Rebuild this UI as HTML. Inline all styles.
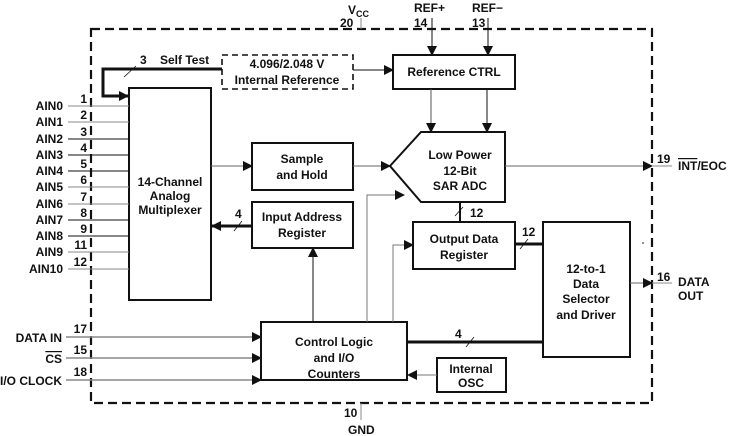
<!DOCTYPE html>
<html><head><meta charset="utf-8"><style>
html,body{margin:0;padding:0;background:#fff}
svg{display:block}
text{font-family:"Liberation Sans",Arial,sans-serif;font-weight:bold;font-size:12px;fill:#111}
</style></head><body>
<svg width="729" height="436" viewBox="0 0 729 436" xmlns="http://www.w3.org/2000/svg">
<defs>
<marker id="a" markerWidth="10" markerHeight="10" refX="9" refY="5" orient="auto" markerUnits="userSpaceOnUse"><path d="M0,0 L10,5 L0,10 z" fill="#111"/></marker>
</defs>
<g stroke="#111" fill="none">
<rect x="91" y="29" width="561" height="374" stroke-width="2.2" stroke-dasharray="9,5"/>
<rect x="222" y="55" width="131" height="34" stroke-width="1.6" stroke-dasharray="6,4"/>
<rect x="393" y="55" width="122" height="34" stroke-width="2"/>
<rect x="129" y="88" width="82" height="212" stroke-width="2"/>
<rect x="252" y="143" width="101" height="47" stroke-width="2"/>
<rect x="252" y="202" width="101" height="46" stroke-width="2"/>
<path d="M390,166 L421,132 L505,132 L505,202 L421,202 Z" stroke-width="2"/>
<rect x="413" y="222" width="102" height="47" stroke-width="2"/>
<rect x="543" y="222" width="87" height="135" stroke-width="2"/>
<rect x="261" y="322" width="146" height="58" stroke-width="2"/>
<rect x="437" y="358" width="69" height="34" stroke-width="2"/>
<path d="M222,69 L103,69 L103,96 L128,96" stroke-width="3" marker-end="url(#a)"/>
<line x1="124" y1="77" x2="136" y2="66" stroke-width="0.8"/>
<line x1="361" y1="18" x2="361" y2="29" stroke="#888" stroke-width="1"/>
<line x1="432" y1="18" x2="432" y2="55" stroke-width="1" marker-end="url(#a)"/>
<line x1="488" y1="18" x2="488" y2="55" stroke-width="1" marker-end="url(#a)"/>
<line x1="353" y1="70" x2="393" y2="70" stroke-width="1" marker-end="url(#a)"/>
<line x1="431" y1="89" x2="431" y2="132" stroke="#555" stroke-width="1" marker-end="url(#a)"/>
<line x1="487" y1="89" x2="487" y2="132" stroke-width="1" marker-end="url(#a)"/>
<g stroke="#888" stroke-width="1">
<line x1="68" y1="106" x2="129" y2="106"/><line x1="68" y1="122" x2="129" y2="122"/>
<line x1="68" y1="139" x2="129" y2="139" stroke="#111"/><line x1="68" y1="155" x2="129" y2="155" stroke="#111"/>
<line x1="68" y1="171" x2="129" y2="171" stroke="#111"/><line x1="68" y1="187" x2="129" y2="187"/>
<line x1="68" y1="204" x2="129" y2="204"/><line x1="68" y1="220" x2="129" y2="220" stroke="#111"/>
<line x1="68" y1="236" x2="129" y2="236" stroke="#111"/><line x1="68" y1="252" x2="129" y2="252"/>
<line x1="68" y1="269" x2="129" y2="269"/>
</g>
<line x1="211" y1="166" x2="252" y2="166" stroke="#666" stroke-width="1" marker-end="url(#a)"/>
<line x1="353" y1="166" x2="390" y2="166" stroke="#666" stroke-width="1" marker-end="url(#a)"/>
<line x1="252" y1="226" x2="212" y2="226" stroke-width="3" marker-end="url(#a)"/>
<line x1="234" y1="231" x2="242" y2="221" stroke-width="0.8"/>
<line x1="505" y1="166" x2="652" y2="166" stroke="#666" stroke-width="1" marker-end="url(#a)"/>
<line x1="652" y1="166" x2="672" y2="166" stroke="#888" stroke-width="1"/>
<line x1="460" y1="202" x2="460" y2="222" stroke-width="2"/>
<line x1="455" y1="216" x2="463" y2="207" stroke-width="0.8"/>
<path d="M367,322 L367,195 L404,195" stroke="#777" stroke-width="1" marker-end="url(#a)"/>
<path d="M393,322 L393,245 L413,245" stroke="#777" stroke-width="1" marker-end="url(#a)"/>
<line x1="515" y1="244" x2="543" y2="244" stroke-width="3"/>
<line x1="520" y1="249" x2="528" y2="239" stroke-width="0.8"/>
<line x1="630" y1="283" x2="652" y2="283" stroke="#666" stroke-width="1" marker-end="url(#a)"/>
<line x1="652" y1="283" x2="672" y2="283" stroke="#888" stroke-width="1"/>
<line x1="313" y1="322" x2="313" y2="248" stroke-width="1" marker-end="url(#a)"/>
<line x1="407" y1="342" x2="543" y2="342" stroke-width="3"/>
<line x1="466" y1="347" x2="474" y2="337" stroke-width="0.8"/>
<line x1="437" y1="375" x2="408" y2="375" stroke="#777" stroke-width="1" marker-end="url(#a)"/>
<line x1="66" y1="337" x2="261" y2="337" stroke="#888" stroke-width="1.5" marker-end="url(#a)"/>
<line x1="66" y1="358" x2="261" y2="358" stroke="#888" stroke-width="1.5" marker-end="url(#a)"/>
<line x1="66" y1="380" x2="261" y2="380" stroke="#888" stroke-width="1.5" marker-end="url(#a)"/>
<line x1="361" y1="403" x2="361" y2="420" stroke="#888" stroke-width="1"/>
</g>
<circle cx="643" cy="243" r="0.8" fill="#111"/>
<text x="348" y="14" font-size="13">V<tspan font-size="9" dy="3">CC</tspan></text>
<text x="340" y="27">20</text>
<text x="414" y="12">REF+</text><text x="414" y="27">14</text>
<text x="472" y="12">REF−</text><text x="472" y="27">13</text>
<text x="140" y="64">3</text><text x="160" y="64">Self Test</text>
<g text-anchor="middle">
<text x="287" y="68">4.096/2.048 V</text>
<text x="287" y="84">Internal Reference</text>
<text x="454" y="76">Reference CTRL</text>
<text x="170" y="186">14-Channel</text><text x="170" y="200">Analog</text><text x="170" y="214">Multiplexer</text>
<text x="302" y="163">Sample</text><text x="302" y="179">and Hold</text>
<text x="302" y="221">Input Address</text><text x="302" y="237">Register</text>
<text x="460" y="159">Low Power</text><text x="460" y="175">12-Bit</text><text x="460" y="190">SAR ADC</text>
<text x="464" y="243">Output Data</text><text x="464" y="259">Register</text>
<text x="586" y="273">12-to-1</text><text x="586" y="288">Data</text><text x="586" y="303">Selector</text><text x="586" y="319">and Driver</text>
<text x="334" y="346">Control Logic</text><text x="334" y="362">and I/O</text><text x="334" y="378">Counters</text>
<text x="471" y="373">Internal</text><text x="471" y="387">OSC</text>
</g>
<g text-anchor="end">
<text x="63" y="110">AIN0</text><text x="63" y="126">AIN1</text><text x="63" y="143">AIN2</text>
<text x="63" y="159">AIN3</text><text x="63" y="175">AIN4</text><text x="63" y="191">AIN5</text>
<text x="63" y="208">AIN6</text><text x="63" y="224">AIN7</text><text x="63" y="240">AIN8</text>
<text x="63" y="256">AIN9</text><text x="63" y="273">AIN10</text>
<text x="62" y="342">DATA IN</text>
<text x="62" y="363" text-decoration="overline">CS</text>
<text x="62" y="385">I/O CLOCK</text>
<text x="87" y="103">1</text><text x="87" y="119">2</text><text x="87" y="136">3</text>
<text x="87" y="152">4</text><text x="87" y="168">5</text><text x="87" y="184">6</text>
<text x="87" y="201">7</text><text x="87" y="217">8</text><text x="87" y="233">9</text>
<text x="87" y="249">11</text><text x="87" y="266">12</text>
<text x="87" y="333">17</text><text x="87" y="354">15</text><text x="87" y="376">18</text>
</g>
<text x="235" y="218">4</text>
<text x="470" y="217">12</text>
<text x="522" y="236">12</text>
<text x="455" y="338">4</text>
<text x="657" y="163">19</text>
<text x="678" y="170"><tspan text-decoration="overline">INT</tspan>/EOC</text>
<text x="657" y="281">16</text>
<text x="678" y="286">DATA</text><text x="678" y="300">OUT</text>
<text x="344" y="417">10</text>
<text x="348" y="434">GND</text>
</svg>
</body></html>
